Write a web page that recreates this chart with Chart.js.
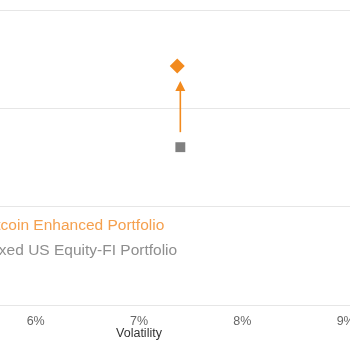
<!DOCTYPE html>
<html>
<head>
<meta charset="utf-8">
<script src="https://cdn.jsdelivr.net/npm/chart.js@4/dist/chart.umd.min.js"></script>
<style>
  html, body { margin: 0; padding: 0; background: #fff; }
  #frame { position: relative; width: 350px; height: 350px; overflow: hidden; }
  #wrap { position: absolute; left: -230px; top: 0; width: 720px; height: 350px; }
</style>
</head>
<body>
<div id="frame"><div id="wrap"><canvas id="c" width="720" height="350"></canvas></div></div>
<script>
// Risk / return of the two portfolios
const seriesNames = ['Bitcoin Enhanced Portfolio', 'Mixed US Equity-FI Portfolio'];
const volatility = [7.37, 7.40];      // % annualised volatility
const returns = [8.86, 7.21];         // % annualised return
const xTicks = [4, 5, 6, 7, 8, 9, 10];
const yTicks = [4, 6, 8, 10];

const markColors = ['#F28A1E', '#808080'];
const textColors = ['#F5A04E', '#8E8E8E'];
const pointStyles = ['rectRot', 'rect'];
const pointSizes = [7.5, 7];

// Arrow from the mixed portfolio up to the bitcoin-enhanced one
const arrowPlugin = {
  id: 'arrow',
  afterDatasetsDraw(chart) {
    const from = chart.getDatasetMeta(1).data[0];
    const to = chart.getDatasetMeta(0).data[0];
    const ctx = chart.ctx;
    const x = from.x;
    const y0 = from.y - 15;
    const tip = to.y + 15;
    ctx.save();
    ctx.strokeStyle = markColors[0];
    ctx.fillStyle = markColors[0];
    ctx.lineWidth = 1.6;
    ctx.beginPath();
    ctx.moveTo(x, y0);
    ctx.lineTo(x, tip + 8);
    ctx.stroke();
    ctx.beginPath();
    ctx.moveTo(x, tip);
    ctx.lineTo(x - 5, tip + 10);
    ctx.lineTo(x + 5, tip + 10);
    ctx.closePath();
    ctx.fill();
    ctx.restore();
  }
};

// Text legend sitting inside the plot area, lower left
const innerLegend = {
  id: 'innerLegend',
  afterDraw(chart) {
    const ctx = chart.ctx;
    const area = chart.chartArea;
    ctx.save();
    ctx.font = '15.5px "Liberation Sans", Arial, sans-serif';
    ctx.textBaseline = 'alphabetic';
    ctx.textAlign = 'left';
    chart.data.datasets.forEach((ds, i) => {
      ctx.fillStyle = textColors[i];
      ctx.fillText(ds.label, area.left + 153.5, 229.5 + i * 25.5);
    });
    ctx.restore();
  }
};

new Chart(document.getElementById('c'), {
  type: 'scatter',
  data: {
    datasets: seriesNames.map((name, i) => ({
      label: name,
      data: [{ x: volatility[i], y: returns[i] }],
      pointStyle: pointStyles[i],
      pointRadius: pointSizes[i],
      pointHoverRadius: pointSizes[i],
      backgroundColor: markColors[i],
      borderColor: markColors[i],
      borderWidth: 0
    }))
  },
  options: {
    responsive: false,
    animation: false,
    events: [],
    layout: { padding: { left: 59, right: 41, top: 10, bottom: 0 } },
    plugins: { legend: { display: false }, tooltip: { enabled: false } },
    scales: {
      x: {
        type: 'linear',
        min: xTicks[0],
        max: xTicks[xTicks.length - 1],
        afterBuildTicks(scale) { scale.ticks = xTicks.map(v => ({ value: v })); },
        afterFit(scale) { scale.height = 45; },
        grid: { display: false, drawTicks: false },
        border: { display: false },
        ticks: {
          padding: 8.6,
          color: '#666',
          font: { family: '"Liberation Sans", Arial, sans-serif', size: 12.5 },
          callback: v => v + '%'
        },
        title: {
          display: true,
          text: 'Volatility',
          color: '#333',
          font: { family: '"Liberation Sans", Arial, sans-serif', size: 12.5, lineHeight: 1 },
          padding: { top: 0, bottom: 10 }
        }
      },
      y: {
        type: 'linear',
        min: yTicks[0],
        max: yTicks[yTicks.length - 1],
        afterBuildTicks(scale) { scale.ticks = yTicks.map(v => ({ value: v })); },
        afterFit(scale) { scale.width = 0; },
        grid: { color: '#e6e6e6', lineWidth: 1, drawTicks: false },
        border: { display: false },
        ticks: { display: false }
      }
    }
  },
  plugins: [arrowPlugin, innerLegend]
});
</script>
</body>
</html>
